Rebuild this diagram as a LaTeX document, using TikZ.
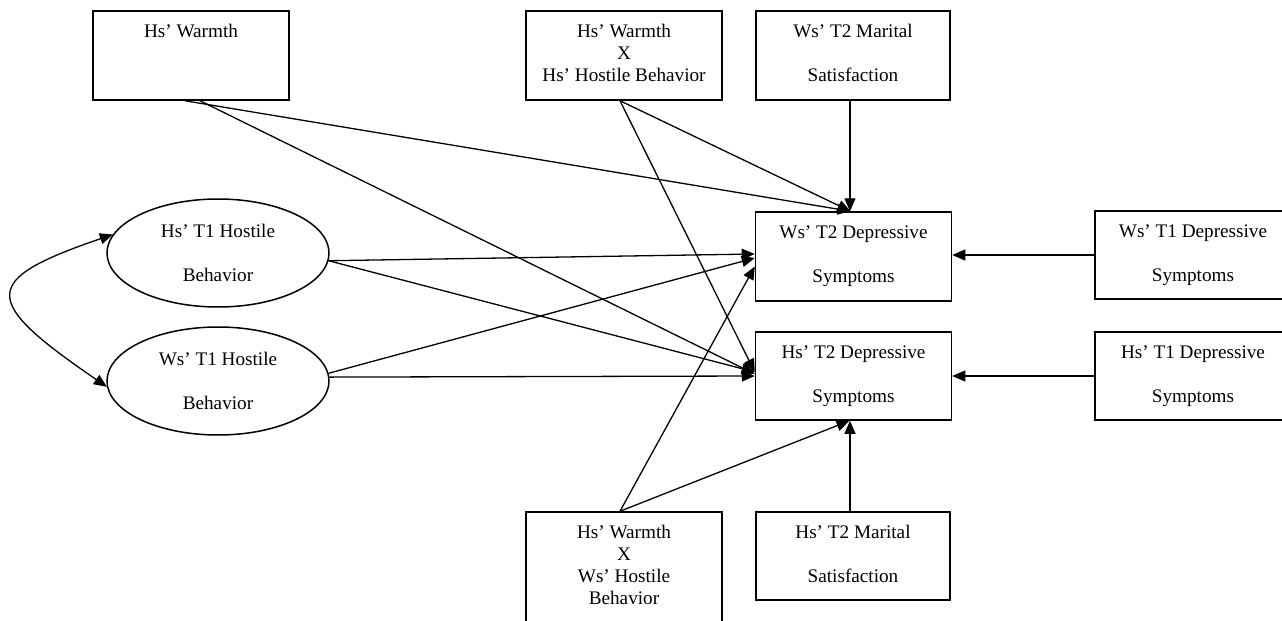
\documentclass[tikz,border=0pt]{standalone}
\usepackage{fontspec}
\setmainfont{Liberation Serif}
\usetikzlibrary{arrows.meta,shapes.geometric}
\newcommand\lblfont{\fontsize{9.6}{11}\selectfont}
\begin{document}
\begin{tikzpicture}[x=0.5pt,y=-0.5pt,
  box/.style={draw, line width=0.75pt, minimum width=98pt, minimum height=44.5pt, inner sep=0pt},
  oval/.style={draw, ellipse, line width=0.75pt, minimum width=111pt, minimum height=54pt, inner sep=0pt, align=center, font=\lblfont},
  txt/.style={inner sep=0pt, align=center, font=\lblfont, anchor=north},
  arr/.style={-{Triangle[length=6.5pt,width=5.5pt]}, line width=0.65pt},
  dblarr/.style={{Triangle[length=6.5pt,width=5.5pt]}-{Triangle[length=6.5pt,width=5.5pt]}, line width=0.65pt}]
\useasboundingbox (0,0) rectangle (1282,621);
% boxes
\node[box] (hw) at (191,55.5) {};
\node[box] (hwxhh) at (624,55.5) {};
\node[box, minimum width=97pt] (wms) at (853,55.5) {};
\node[box] (wt2) at (853.5,256.5) {};
\node[box, minimum height=44pt] (ht2) at (853.5,376) {};
\node[box, minimum height=44pt] (wt1) at (1193,255) {};
\node[box, minimum height=44pt] (ht1) at (1193,376) {};
\node[box, minimum height=65pt] (hwxwh) at (624,577) {};
\node[box, minimum width=97pt, minimum height=44pt] (hms) at (853,556) {};
% ellipses
\node[oval] (h1) at (218,253) {Hs’ T1 Hostile\\[11pt]Behavior};
\node[oval] (w1) at (218,381) {Ws’ T1 Hostile\\[11pt]Behavior};
% texts
\node[txt] (thw) at ([yshift=-7pt]hw.north) {Hs’ Warmth};
\node[txt] (thwxhh) at ([yshift=-7pt]hwxhh.north) {Hs’ Warmth\\X\\Hs’ Hostile Behavior};
\node[txt] (twms) at ([yshift=-7pt]wms.north) {Ws’ T2 Marital\\[11pt]Satisfaction};
\node[txt] (twt2) at ([yshift=-7pt]wt2.north) {Ws’ T2 Depressive\\[11pt]Symptoms};
\node[txt] (tht2) at ([yshift=-7pt]ht2.north) {Hs’ T2 Depressive\\[11pt]Symptoms};
\node[txt] (twt1) at ([yshift=-7pt]wt1.north) {Ws’ T1 Depressive\\[11pt]Symptoms};
\node[txt] (tht1) at ([yshift=-7pt]ht1.north) {Hs’ T1 Depressive\\[11pt]Symptoms};
\node[txt] (thwxwh) at ([yshift=-7pt]hwxwh.north) {Hs’ Warmth\\X\\Ws’ Hostile\\Behavior};
\node[txt] (thms) at ([yshift=-7pt]hms.north) {Hs’ T2 Marital\\[11pt]Satisfaction};
% connectors
\draw[arr] ([xshift=-3pt]hw.south) -- ([xshift=-1.5pt]wt2.north);
\draw[arr] ([xshift=4.5pt]hw.south) -- ([yshift=1pt]ht2.west);
\draw[arr] ([xshift=-2pt]hwxhh.south) -- ([xshift=-1.5pt]wt2.north);
\draw[arr] ([xshift=-2pt]hwxhh.south) -- ([yshift=2pt]ht2.west);
\draw[arr] ([xshift=-1.5pt]wms.south) -- ([xshift=-1.5pt]wms.south |- wt2.north);
\draw[arr] (h1.-4) -- ([yshift=1.25pt]wt2.west);
\draw[arr] (h1.-4) -- ([yshift=2pt]ht2.west);
\draw[arr] (w1.4) -- ([yshift=-0.75pt]wt2.west);
\draw[arr] (w1.2) -- (ht2.west);
\draw[arr] ([xshift=-2pt]hwxwh.north) -- ([yshift=-5pt]wt2.west);
\draw[arr] ([xshift=-2pt]hwxwh.north) -- ([xshift=-2pt]ht2.south);
\draw[arr] ([xshift=-1.5pt]hms.north) -- ([xshift=-1.5pt]hms.north |- ht2.south);
\draw[arr] (wt1.west) -- (wt1.west -| wt2.east);
\draw[arr] (ht1.west) -- (ht1.west -| ht2.east);
\draw[dblarr] (h1.170) .. controls (-20,280) and (-20,300) .. (w1.183);
\end{tikzpicture}
\end{document}
